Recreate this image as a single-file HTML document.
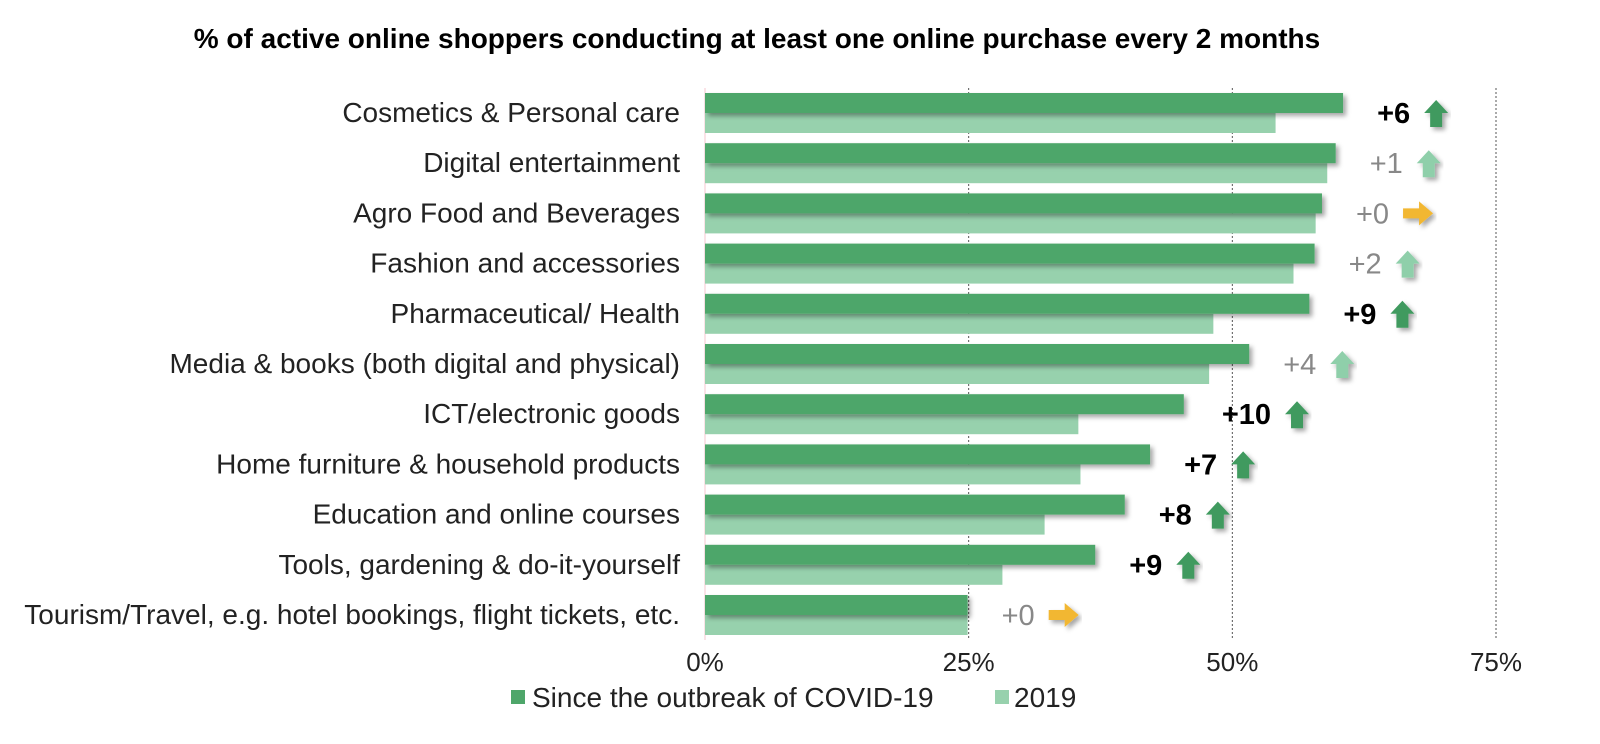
<!DOCTYPE html>
<html><head><meta charset="utf-8"><style>
body{margin:0;background:#fff;}
svg{display:block;font-family:"Liberation Sans",Arial,sans-serif;}
</style></head><body>
<svg id="chart" width="1600" height="744">
<defs>
<filter id="sh" x="-5%" y="-30%" width="115%" height="180%"><feDropShadow dx="3" dy="3" stdDeviation="2.5" flood-color="#000" flood-opacity="0.35"/></filter>
</defs>
<text x="757" y="48" text-anchor="middle" font-size="28" font-weight="bold">% of active online shoppers conducting at least one online purchase every 2 months</text>
<g id="grid"></g><g id="bars"></g><g id="labels"></g>
<g>
<rect x="511" y="690" width="14" height="14" fill="#4ea66a"/>
<text x="532" y="707" font-size="28" fill="#222">Since the outbreak of COVID-19</text>
<rect x="995" y="690" width="14" height="14" fill="#97d1ad"/>
<text x="1014" y="707" font-size="28" fill="#222">2019</text>
</g>
</svg>
<script>
const categories=["Cosmetics & Personal care","Digital entertainment","Agro Food and Beverages","Fashion and accessories","Pharmaceutical/ Health","Media & books (both digital and physical)","ICT/electronic goods","Home furniture & household products","Education and online courses","Tools, gardening & do-it-yourself","Tourism/Travel, e.g. hotel bookings, flight tickets, etc."];
const covid=[60.5,59.8,58.5,57.8,57.3,51.6,45.4,42.2,39.8,37.0,24.9];
const y2019=[54.1,59.0,57.9,55.8,48.2,47.8,35.4,35.6,32.2,28.2,24.9];
const deltas=["+6","+1","+0","+2","+9","+4","+10","+7","+8","+9","+0"];
const significant=[true,false,false,false,true,false,true,true,true,true,false];
const ticks=[0,25,50,75];
const NS="http://www.w3.org/2000/svg";
const x0=705,pxPer=(1496-705)/75,top0=93,pitch=50.2,bh=20;
const xs=v=>x0+v*pxPer;
function mk(tag,attrs,parent){const e=document.createElementNS(NS,tag);for(const k in attrs)e.setAttribute(k,attrs[k]);parent.appendChild(e);return e;}
const grid=document.getElementById('grid'),bars=document.getElementById('bars'),labels=document.getElementById('labels');
ticks.forEach(t=>{
 if(t>0){const l=mk('line',{x1:xs(t),x2:xs(t),y1:88,y2:640,stroke:'#555','stroke-width':1,'stroke-dasharray':'2,2'},grid);
 
 }
 const tx=mk('text',{x:xs(t),y:671,'text-anchor':'middle','font-size':26,fill:'#222'},labels);tx.textContent=t+'%';
 
 
});
const zl=mk('line',{x1:x0,x2:x0,y1:88,y2:640,stroke:'#f4c7cf','stroke-width':1},grid);


categories.forEach((c,i)=>{
 const y=top0+i*pitch;
 const b2=mk('rect',{x:x0,y:y+bh,width:xs(y2019[i])-x0,height:bh,fill:'#97d1ad'},bars);
 
 
 const b1=mk('rect',{x:x0,y:y,width:xs(covid[i])-x0,height:bh,fill:'#4ea66a',filter:'url(#sh)'},bars);
 
 
 const lt=mk('text',{x:680,y:y+bh+9,'text-anchor':'end','font-size':28,fill:'#222'},labels);lt.textContent=c;
 
 
 const sig=significant[i];
 const dx=xs(covid[i])+(deltas[i].length>2?38:34);
 const dt=mk('text',{x:dx,y:y+bh+10,'font-size':29,'font-weight':sig?'bold':'normal',fill:sig?'#000':'#888'},labels);dt.textContent=deltas[i];
 
 
 const ax=dx+dt.getComputedTextLength()+14,ay=y+bh;
 let pts,col;
 if(deltas[i]==="+0"){col='#f2b733';pts=[[ax,ay-5],[ax+16,ay-5],[ax+16,ay-12],[ax+30,ay],[ax+16,ay+12],[ax+16,ay+5],[ax,ay+5]];}
 else{col=sig?'#3f9a5e':'#8fcfaa';pts=[[ax+6,ay+14],[ax+6,ay],[ax,ay],[ax+12,ay-13],[ax+24,ay],[ax+18,ay],[ax+18,ay+14]];}
 const ar=mk('polygon',{points:pts.map(p=>p.join(',')).join(' '),fill:col,filter:'url(#sh)'},labels);
 
 
});
</script>
</body></html>
